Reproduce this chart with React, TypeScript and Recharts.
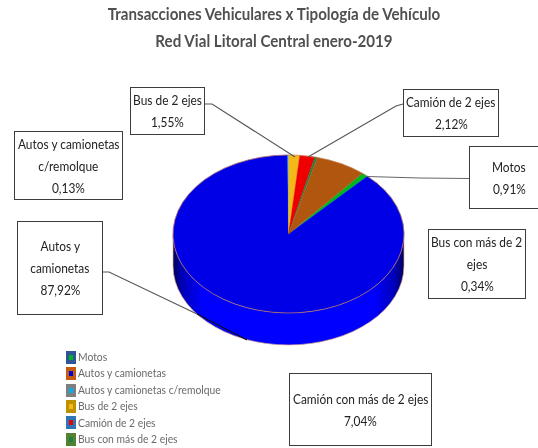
import React from "react";
import { PieChart, Pie, Legend } from "recharts";

const categories = ["Motos", "Autos y camionetas", "Autos y camionetas c/remolque", "Bus de 2 ejes", "Camión de 2 ejes", "Bus con más de 2 ejes", "Camión con más de 2 ejes"];
const shares = [0.91, 87.92, 0.13, 1.55, 2.12, 0.34, 7.04];
const sliceColors = ["#00b422", "#0000e6", "#00b0f0", "#f2b918", "#ee0000", "#1f7f3f", "#b0560f"];
const legendEdges = ["#2f5597", "#c55a11", "#7f7f7f", "#bf9000", "#2e75b6", "#548235"];
const shareLabels = ["0,91%", "87,92%", "0,13%", "1,55%", "2,12%", "0,34%", "7,04%"];
const titleLines = ["Transacciones Vehiculares x Tipología de Vehículo", "Red Vial Litoral Central enero-2019"];

const tableData = categories.map((name, i) => ({ name, value: shares[i], fill: sliceColors[i] }));

const FONT = "Lato, 'Liberation Sans', sans-serif";
const RATIO = 0.684;
const DEPTH = 32;

type Box = { i: number; lines: string[]; x: number; y: number; w: number; h: number };
const boxes: Box[] = [
  { i: 0, lines: ["Motos"], x: 469, y: 146, w: 80, h: 63 },
  { i: 1, lines: ["Autos y", "camionetas"], x: 17, y: 221, w: 86, h: 94 },
  { i: 2, lines: ["Autos y camionetas", "c/remolque"], x: 14, y: 131, w: 109, h: 69 },
  { i: 3, lines: ["Bus de 2 ejes"], x: 130, y: 87, w: 75, h: 48 },
  { i: 4, lines: ["Camión de 2 ejes"], x: 403, y: 89, w: 96, h: 48 },
  { i: 5, lines: ["Bus con más de 2", "ejes"], x: 428, y: 229, w: 98, h: 70 },
  { i: 6, lines: ["Camión con más de 2 ejes"], x: 289, y: 373, w: 143, h: 73 },
];
const leaders = [
  { points: "205,104 212,104 295,157", color: "#555555" },
  { points: "403,104 396,106 308,157", color: "#555555" },
  { points: "469,178.5 420,178 367,176.5", color: "#666666" },
  { points: "103,272 109,272 197,314", color: "#555555" },
  { points: "197,314 247,340", color: "#111111" },
];

const pt = (cx: number, cy: number, r: number, deg: number, dy = 0) => {
  const a = (deg * Math.PI) / 180;
  return [cx + r * Math.cos(a), cy - r * RATIO * Math.sin(a) + dy];
};

const Wall = ({ cx, cy, r, startAngle, endAngle, index }: any) => {
  const s = Math.min(startAngle, 0);
  const e = Math.max(endAngle, -180);
  if (s <= e) return null;
  const [x0, y0] = pt(cx, cy, r, s);
  const [x1, y1] = pt(cx, cy, r, e);
  const [x2, y2] = pt(cx, cy, r, e, DEPTH);
  const [x3, y3] = pt(cx, cy, r, s, DEPTH);
  const id = `wall-${index}`;
  return (
    <g>
      <defs>
        <linearGradient id={id} x1="0" x2="1" y1="0" y2="0">
          <stop offset="0" stopColor="#00005a" />
          <stop offset="0.04" stopColor="#0000b8" />
          <stop offset="0.13" stopColor="#0000ff" />
          <stop offset="0.87" stopColor="#0000ff" />
          <stop offset="0.96" stopColor="#0000b8" />
          <stop offset="1" stopColor="#00005a" />
        </linearGradient>
      </defs>
      <path
        d={`M${x0},${y0} A${r},${r * RATIO} 0 0 1 ${x1},${y1} L${x2},${y2} A${r},${r * RATIO} 0 0 0 ${x3},${y3} Z`}
        fill={`url(#${id})`}
      />
      <path
        d={`M${x1},${y1} L${x2},${y2} A${r},${r * RATIO} 0 0 0 ${x3},${y3} L${x0},${y0}`}
        fill="none"
        stroke="#e8b088"
        strokeWidth={0.7}
      />
    </g>
  );
};

const Slice3D = (p: any) => {
  const { cx, cy, outerRadius: r, startAngle: s, endAngle: e, fill, index } = p;
  const [x0, y0] = pt(cx, cy, r, s);
  const [x1, y1] = pt(cx, cy, r, e);
  const large = Math.abs(s - e) > 180 ? 1 : 0;
  return (
    <g>
      <Wall cx={cx} cy={cy} r={r} startAngle={s} endAngle={e} index={index} />
      <path d={`M${cx},${cy} L${x0},${y0} A${r},${r * RATIO} 0 ${large} 1 ${x1},${y1} Z`} fill={fill} stroke={fill} strokeWidth={0.3} />
      <path d={`M${x0},${y0} A${r},${r * RATIO} 0 ${large} 1 ${x1},${y1}`} fill="none" stroke="#cc8050" strokeWidth={0.7} />
    </g>
  );
};

const LegendList = ({ payload }: any) => (
  <div style={{ fontFamily: FONT, fontSize: 12, color: "#6a6a6a", lineHeight: "16.4px" }}>
    {(payload || []).slice(0, 6).map((entry: any, i: number) => (
      <div key={entry.value} style={{ display: "flex", alignItems: "center", whiteSpace: "nowrap" }}>
        <span
          style={{
            width: 4,
            height: 5,
            borderStyle: "solid",
            borderColor: legendEdges[i],
            borderWidth: "4px 3.5px",
            background: sliceColors[i],
            marginRight: 2,
            flex: "none",
          }}
        />
        <span style={{ transformOrigin: "0 50%", transform: "scaleX(0.86)" }}>{entry.value}</span>
      </div>
    ))}
  </div>
);

export default function App() {
  return (
    <div style={{ position: "absolute", left: 0, top: 0, width: 538, height: 448, overflow: "hidden", background: "#fff", fontFamily: FONT, filter: "blur(0.3px)" }}>
      <PieChart width={538} height={448} margin={{ top: 0, right: 0, bottom: 0, left: 0 }}>
        <Pie
          data={tableData}
          dataKey="value"
          nameKey="name"
          cx={288.5}
          cy={234}
          outerRadius={115.5}
          startAngle={50.2}
          endAngle={-309.8}
          stroke="none"
          isAnimationActive={false}
          shape={Slice3D}
        />
        <Legend
          layout="horizontal"
          align="left"
          verticalAlign="bottom"
          itemSorter={null}
          content={<LegendList />}
          wrapperStyle={{ left: 66, top: 349, bottom: "auto", width: 190 }}
        />
      </PieChart>

      <svg width={538} height={448} style={{ position: "absolute", left: 0, top: 0, pointerEvents: "none" }}>
        {leaders.map((l) => (
          <polyline key={l.points} points={l.points} fill="none" stroke={l.color} strokeWidth={1.1} />
        ))}
      </svg>

      {boxes.map((b) => (
        <div
          key={b.i}
          style={{
            position: "absolute",
            left: b.x,
            top: b.y,
            width: b.w,
            height: b.h,
            boxSizing: "border-box",
            border: "1.5px solid #3c3c3c",
            background: "#fff",
            display: "flex",
            flexDirection: "column",
            alignItems: "center",
            justifyContent: "center",
            fontSize: 14,
            lineHeight: "22px",
            color: "#222",
            textAlign: "center",
            whiteSpace: "nowrap",
          }}
        >
          {b.lines.map((t) => (
            <div key={t} style={{ transform: "scaleX(0.85)" }}>{t}</div>
          ))}
          <div style={{ transform: "scaleX(0.85)" }}>{shareLabels[b.i]}</div>
        </div>
      ))}

      <div
        style={{
          position: "absolute",
          left: 74,
          top: 0,
          width: 400,
          textAlign: "center",
          fontWeight: 700,
          fontSize: 17,
          lineHeight: "27px",
          color: "#505050",
          whiteSpace: "nowrap",
          transform: "scaleX(0.89)",
        }}
      >
        {titleLines.map((t) => (
          <div key={t}>{t}</div>
        ))}
      </div>
    </div>
  );
}
